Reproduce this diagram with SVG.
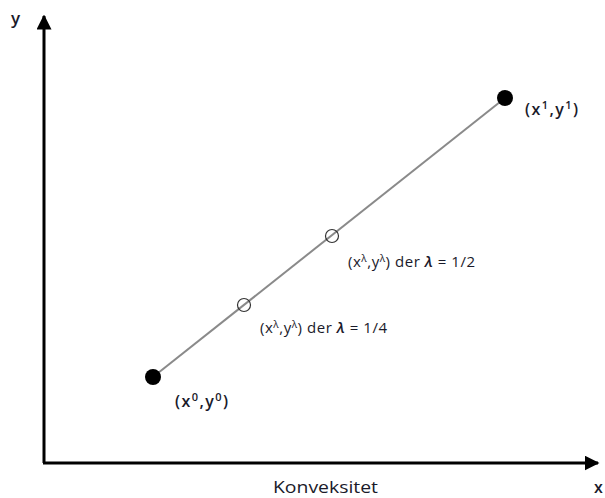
<svg xmlns="http://www.w3.org/2000/svg" width="605" height="498" viewBox="0 0 605 498">
<defs>
<marker id="ah" viewBox="0 0 10 10" refX="9" refY="5" markerWidth="5" markerHeight="5" orient="auto" markerUnits="strokeWidth">
<path d="M0,0 L10,5 L0,10 z" fill="#000"/>
</marker>
</defs>
<style>
text{font-family:"Open Sans","Liberation Sans",sans-serif;fill:#1a1a2a}
.lab{font-size:15px}
.big{font-size:16px;font-weight:600}
.ax{stroke:#000;stroke-width:3;fill:none}
.seg{stroke:#8a8a8a;stroke-width:2}
.open{fill:none;stroke:#333;stroke-width:1.2}
</style>
<g id="axes">
<line class="ax" x1="44" y1="463" x2="44" y2="16" marker-end="url(#ah)"/>
<line class="ax" x1="43" y1="463" x2="598" y2="463" marker-end="url(#ah)"/>
<text x="11" y="24" class="big" style="font-size:17px">y</text>
<text x="594" y="493" class="big" style="font-size:16px">x</text>
<text x="273" y="493" style="font-size:17px" textLength="105" lengthAdjust="spacingAndGlyphs">Konveksitet</text>
</g>
<g id="connectors">
<line class="seg" x1="153" y1="377" x2="505" y2="98"/>
</g>
<g id="p0">
<circle cx="153" cy="377" r="8" fill="#000"/>
<text x="175" y="407" class="big" textLength="53">(x<tspan dy="-6" font-size="11">0</tspan><tspan dy="6">,y</tspan><tspan dy="-6" font-size="11">0</tspan><tspan dy="6">)</tspan></text>
</g>
<g id="p1">
<circle cx="505" cy="98" r="8" fill="#000"/>
<text x="525" y="115" class="big" textLength="53">(x<tspan dy="-6" font-size="11">1</tspan><tspan dy="6">,y</tspan><tspan dy="-6" font-size="11">1</tspan><tspan dy="6">)</tspan></text>
</g>
<g id="pq">
<circle cx="244" cy="305" r="6.5" class="open"/>
<text x="260" y="333" class="lab" textLength="127">(x<tspan dy="-5" font-size="10">λ</tspan><tspan dy="5">,y</tspan><tspan dy="-5" font-size="10">λ</tspan><tspan dy="5">) der </tspan><tspan font-style="italic" font-weight="600">λ</tspan> = 1/4</text>
</g>
<g id="ph">
<circle cx="332" cy="236" r="6.5" class="open"/>
<text x="348" y="267" class="lab" textLength="127">(x<tspan dy="-5" font-size="10">λ</tspan><tspan dy="5">,y</tspan><tspan dy="-5" font-size="10">λ</tspan><tspan dy="5">) der </tspan><tspan font-style="italic" font-weight="600">λ</tspan> = 1/2</text>
</g>
</svg>
